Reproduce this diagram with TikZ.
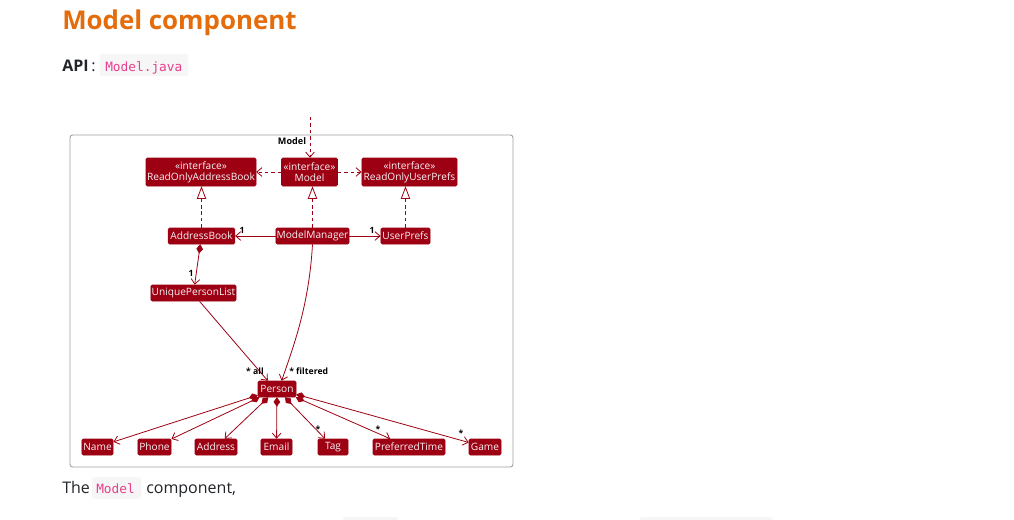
\documentclass[tikz,border=0pt]{standalone}
\usepackage{fontspec}
\setmainfont{Open Sans}
\newfontfamily\codefont{DejaVu Sans Mono}
\usetikzlibrary{arrows.meta,calc}
\definecolor{umlred}{HTML}{9D0012}
\definecolor{titleorange}{HTML}{E46C0A}
\definecolor{codepink}{HTML}{E83E8C}
\definecolor{codebg}{HTML}{F6F6F6}
\definecolor{bodytext}{HTML}{212529}
\definecolor{framegray}{HTML}{A0A0A0}
\tikzset{
  umlbox/.style={fill=umlred, draw=umlred, rounded corners=1pt, text=white!92!gray,
    font=\fontsize{7.6}{8.4}\selectfont, inner sep=0pt, minimum height=12pt, align=center},
  twoline/.style={minimum height=21pt},
  conn/.style={draw=umlred, line width=0.6pt},
  dashconn/.style={conn, dash pattern=on 2.6pt off 2.2pt},
  head/.style={-{Straight Barb[length=3.8pt,width=6.5pt]}},
  realize/.style={dashconn, -{Triangle[open,length=9.5pt,width=7pt,fill=white]}},
  compo/.style={conn, {Diamond[length=7pt,width=5pt]}-{Straight Barb[length=3.8pt,width=6.5pt]}},
  mult/.style={font=\fontsize{6.5}{7}\selectfont\bfseries, text=black, inner sep=0pt},
  codebox/.style={fill=codebg, rounded corners=2pt, inner sep=0pt},
  codetext/.style={font=\codefont\fontsize{9.6}{11}\selectfont, text=codepink, inner sep=0pt},
  bodyt/.style={font=\fontsize{12}{14}\selectfont, text=bodytext, inner sep=0pt}
}
\begin{document}
\begin{tikzpicture}[x=0.75pt,y=-0.75pt]
\useasboundingbox (0,0) rectangle (1014,519);
\fill[white] (0,0) rectangle (1014,519);

% header texts
\node[anchor=base west, inner sep=0pt, text=titleorange, font=\fontsize{19.4}{23}\selectfont\bfseries] (title) at (62,29) {Model component};
\node[anchor=base west, bodyt, font=\fontsize{12}{14}\selectfont\bfseries] (api) at (62,71) {API};
\node[anchor=base west, bodyt] (colon) at (91,71) {:};
\fill[codebox] (100,54) rectangle (188,76);
\node[anchor=base west, codetext] (apicode) at (105,71) {Model.java};

% frame
\draw[framegray, line width=0.7pt, rounded corners=2pt] (70,135) rectangle (513,467);
\node[font=\fontsize{6.8}{8}\selectfont\bfseries, inner sep=0pt] (framelabel) at (292,141) {Model};

% nodes
\node[umlbox, twoline, minimum width=42pt] (model) at (309.5,172) {«interface»\\Model};
\node[umlbox, twoline, minimum width=82.5pt] (roab) at (201,172) {«interface»\\ReadOnlyAddressBook};
\node[umlbox, twoline, minimum width=71.5pt] (roup) at (409.5,172) {«interface»\\ReadOnlyUserPrefs};
\node[umlbox, minimum width=50pt] (ab) at (201.5,236) {AddressBook};
\node[umlbox, minimum width=55pt] (mm) at (312.5,236) {ModelManager};
\node[umlbox, minimum width=37pt] (up) at (405.5,236) {UserPrefs};
\node[umlbox, minimum width=64pt] (upl) at (193.5,293) {UniquePersonList};
\node[umlbox, minimum width=28.5pt] (person) at (277,389) {Person};
\node[umlbox, minimum width=23.5pt] (name) at (97.5,447) {Name};
\node[umlbox, minimum width=25pt] (phone) at (154.5,447) {Phone};
\node[umlbox, minimum width=31.5pt] (address) at (216,447) {Address};
\node[umlbox, minimum width=23.5pt] (email) at (276.5,447) {Email};
\node[umlbox, minimum width=22.5pt] (tag) at (333,447) {Tag};
\node[umlbox, minimum width=54pt] (ptime) at (409,447) {PreferredTime};
\node[umlbox, minimum width=24pt] (game) at (485,447) {Game};

% top incoming
\coordinate (topin) at (310,117);
\draw[dashconn, head] (topin) -- (topin |- model.north);

% dependencies
\draw[dashconn, head] (model.west) -- (roab.east);
\draw[dashconn, head] (model.east) -- (roup.west);

% realizations
\draw[realize] (ab.north) -- (ab.north |- roab.south);
\draw[realize] (mm.north) -- (mm.north |- model.south);
\draw[realize] (up.north) -- (up.north |- roup.south);

% associations
\draw[conn, head] (mm.west) -- (ab.east);
\node[mult] (m1) at (242,230) {1};
\draw[conn, head] (mm.east) -- (up.west);
\node[mult] (m2) at (372,230) {1};
\draw[compo] (ab) -- (upl);
\node[mult] (m3) at (191,273) {1};

\coordinate (pin1) at ($(person.north west)!0.26!(person.north east)$);
\coordinate (pin2) at ($(person.north west)!0.62!(person.north east)$);
\draw[conn, head] ($(upl.south west)!0.57!(upl.south east)$) -- (pin1);
\node[mult, anchor=base east] (mall) at (264,374) {* all};
\draw[conn, head] (mm.south) .. controls (309,305) and (294,345) .. (pin2);
\node[mult, anchor=base west] (mfilt) at (289,374) {* filtered};

% compositions from Person
\draw[compo] (person) -- (name);
\draw[compo] (person) -- (phone);
\draw[compo] (person) -- (address);
\draw[compo] (person) -- (email);
\draw[compo] (person) -- (tag);
\node[mult] (m4) at (318,429) {*};
\draw[compo] (person) -- (ptime);
\node[mult] (m5) at (378,429) {*};
\draw[compo] (person) -- (game);
\node[mult] (m6) at (461,433) {*};

% footer text
\node[anchor=base west, bodyt] (the) at (62,493) {The};
\fill[codebox] (92,477) rectangle (141,499);
\node[anchor=base west, codetext] (modelcode) at (96,493) {Model};
\node[anchor=base west, bodyt] (comp) at (146,493) {component,};

% cut-off code spans at bottom edge
\fill[codebox] (343,517) rectangle (398,527);
\fill[codebox] (640,517) rectangle (773,527);
\end{tikzpicture}
\end{document}
